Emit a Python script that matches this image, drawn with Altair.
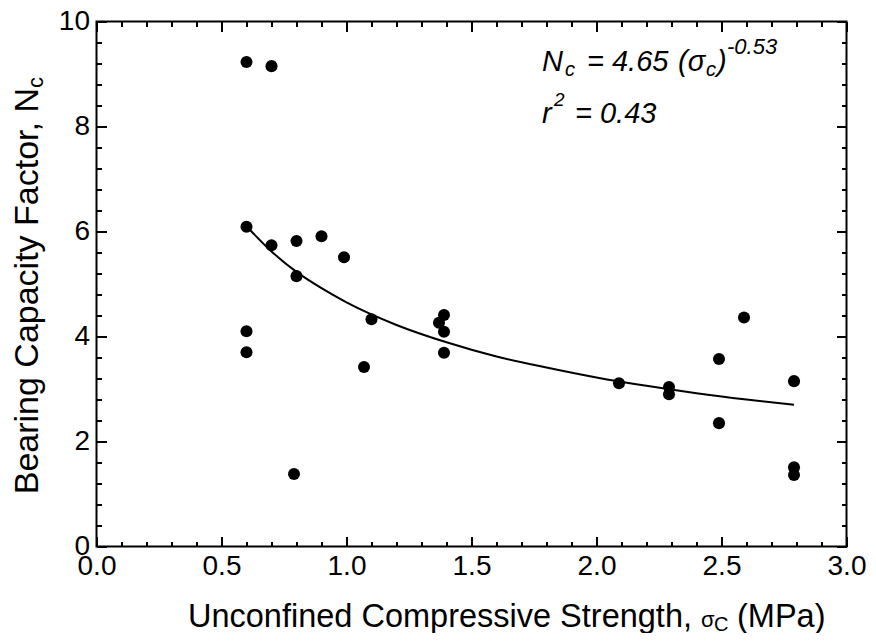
import altair as alt
import pandas as pd

# ---- data ----
ucs_mpa = [0.6, 0.7, 0.6, 0.6, 0.6, 0.7, 0.8, 0.8, 0.79, 0.9, 0.99, 1.1, 1.07,
           1.37, 1.39, 1.39, 1.39, 2.09, 2.29, 2.29, 2.49, 2.49, 2.59, 2.79, 2.79, 2.79]
nc_vals = [9.23, 9.15, 6.09, 4.10, 3.70, 5.74, 5.82, 5.15, 1.38, 5.91, 5.51, 4.33, 3.42,
           4.26, 4.41, 4.09, 3.69, 3.11, 3.04, 2.90, 3.57, 2.35, 4.36, 3.15, 1.51, 1.36]

fit_x = [0.6, 0.7, 0.8, 0.9, 1.0, 1.2, 1.4, 1.6, 1.8, 2.0, 2.2, 2.4, 2.6, 2.79]
fit_y = [6.10, 5.62, 5.23, 4.92, 4.65, 4.22, 3.89, 3.62, 3.41, 3.22, 3.06, 2.92, 2.80, 2.70]

x_major = [0.0, 0.5, 1.0, 1.5, 2.0, 2.5, 3.0]
x_minor = [0.1, 0.2, 0.3, 0.4, 0.6, 0.7, 0.8, 0.9, 1.1, 1.2, 1.3, 1.4, 1.6, 1.7, 1.8, 1.9,
           2.1, 2.2, 2.3, 2.4, 2.6, 2.7, 2.8, 2.9]
y_major = [0, 2, 4, 6, 8, 10]
y_minor = [0.4, 0.8, 1.2, 1.6, 2.4, 2.8, 3.2, 3.6, 4.4, 4.8, 5.2, 5.6, 6.4, 6.8, 7.2, 7.6,
           8.4, 8.8, 9.2, 9.6]

W, H = 750, 525
PL, PT = 88.5, 13.5          # padding -> plot origin on page at (96.5, 21.5)
OX, OY = PL + 8, PT + 8
FONT = "Liberation Sans"

pts = pd.DataFrame({"x": ucs_mpa, "y": nc_vals})
fit = pd.DataFrame({"x": fit_x, "y": fit_y})
one = pd.DataFrame({"a": [0]})

xs = alt.Scale(domain=[0, 3], nice=False, zero=False)
ys = alt.Scale(domain=[0, 10], nice=False, zero=False)

# main layer: points + labelled axes
points = alt.Chart(pts).mark_circle(size=145, color="black", opacity=1).encode(
    x=alt.X("x:Q", scale=xs, axis=alt.Axis(
        orient="bottom", values=x_major, format=".1f", ticks=False, domain=False,
        grid=False, title=None, labelFontSize=28, labelFont=FONT, labelColor="black",
        labelPadding=6, labelFlush=False)),
    y=alt.Y("y:Q", scale=ys, axis=alt.Axis(
        orient="left", values=y_major, format="d", ticks=False, domain=False,
        grid=False, title=None, labelFontSize=28, labelFont=FONT, labelColor="black",
        labelPadding=7, labelFlush=False)),
)

line = alt.Chart(fit).mark_line(color="black", strokeWidth=2, interpolate="monotone").encode(
    x=alt.X("x:Q", scale=xs, axis=None), y=alt.Y("y:Q", scale=ys, axis=None))


def tick_layer(xorient, yorient, xvals, yvals, size):
    common = dict(labels=False, domain=False, title=None, grid=False,
                  tickColor="black", tickWidth=2, tickSize=size)
    return alt.Chart(pts).mark_point(opacity=0).encode(
        x=alt.X("x:Q", scale=xs, axis=alt.Axis(orient=xorient, offset=-H, values=xvals, **common)),
        y=alt.Y("y:Q", scale=ys, axis=alt.Axis(orient=yorient, offset=-W, values=yvals, **common)),
    )


ticks = [
    tick_layer("top", "right", x_major, y_major, 10),     # bottom & left edges, inward
    tick_layer("top", "right", x_minor, y_minor, 5),
    tick_layer("bottom", "left", x_major, y_major, 10),   # top & right edges, inward
    tick_layer("bottom", "left", x_minor, y_minor, 5),
]


def txt(text, px, py, size, italic=False, angle=0, align="left"):
    return alt.Chart(one).mark_text(
        text=text, fontSize=size, font=FONT, fontStyle="italic" if italic else "normal",
        align=align, baseline="alphabetic", angle=angle, color="black",
    ).encode(x=alt.value(px - OX), y=alt.value(py - OY))


# equation annotation (page pixel positions of each piece)
eq = [
    txt("N", 542, 71, 29, True), txt("c", 565, 76, 20, True), txt("= 4.65", 587, 71, 29, True),
    txt("(σ", 678, 71, 29, True), txt("c", 706, 76, 20, True), txt(")", 717, 71, 29, True),
    txt("-0.53", 727, 54, 22, True),
    txt("r", 542, 123, 29, True), txt("2", 554, 106, 19, True), txt("= 0.43", 575, 123, 29, True),
]

# axis titles
titles = [
    txt("Bearing Capacity Factor, N", 38, 88, 34, angle=270, align="right"),
    txt("c", 43, 88, 22, angle=270, align="left"),
    txt("Unconfined Compressive Strength,", 692, 627, 32.5, align="right"),
    txt("σ", 701, 627, 22), txt("C", 714, 631, 20),
    txt("(MPa)", 737, 627, 32.5),
]

chart = alt.layer(points, line, *ticks, *eq, *titles).resolve_axis(
    x="independent", y="independent"
).properties(
    width=W, height=H,
    autosize=alt.AutoSizeParams(type="none"),
    padding={"left": PL, "top": PT, "right": 860 - W - PL, "bottom": 625 - H - PT},
).configure_view(stroke="black", strokeWidth=2)

chart.save("out.html", embed_options={"renderer": "svg", "actions": False})
